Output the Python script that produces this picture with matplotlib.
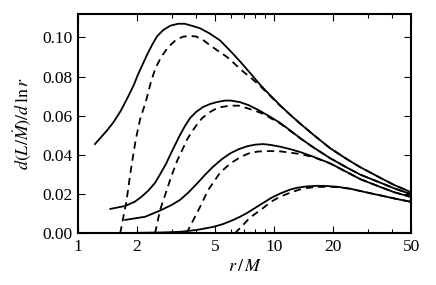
import numpy as np
import matplotlib.pyplot as plt
from matplotlib.ticker import FixedLocator, FixedFormatter, NullFormatter

plt.rcParams['font.family'] = ['Liberation Serif', 'DejaVu Serif']
plt.rcParams['mathtext.fontset'] = 'stix'

# curve 1 (top)
r1_solid = [1.22, 1.39, 1.51, 1.65, 1.80, 1.92, 2.02, 2.13, 2.25, 2.38, 2.53, 2.72, 2.95, 3.24,
            3.5, 3.8, 4.19, 4.7, 5.3, 6.0, 6.7, 7.6, 8.5, 9.53, 10.7, 12.1, 13.6, 15.8, 19.3,
            23.6, 27.5, 34.6, 41, 50]
y1_solid = [0.0456, 0.052, 0.0565, 0.0625, 0.0698, 0.0755, 0.081, 0.086, 0.0912, 0.096, 0.1006,
            0.1038, 0.106, 0.107, 0.107, 0.106, 0.1047, 0.102, 0.0985, 0.093, 0.0878, 0.0815,
            0.0758, 0.0706, 0.0655, 0.0605, 0.056, 0.0505, 0.0435, 0.0378, 0.0338, 0.0285,
            0.0247, 0.021]
r1_dash = [1.64, 1.70, 1.76, 1.86, 1.97, 2.07, 2.22, 2.36, 2.47, 2.65, 2.88, 3.16, 3.43, 3.7,
           4.0, 4.3, 4.72, 5.2, 5.76, 6.3, 6.95, 7.6, 8.5, 9.53, 10.7, 12.1, 13.6, 15.8, 19.3,
           23.6, 27.5, 34.6, 41, 50]
y1_dash = [0.0, 0.008, 0.0156, 0.0325, 0.048, 0.058, 0.0675, 0.0777, 0.0837, 0.090, 0.095,
           0.0988, 0.1004, 0.1008, 0.1005, 0.099, 0.096, 0.093, 0.090, 0.0865, 0.0826, 0.0795,
           0.0752, 0.0703, 0.0653, 0.0605, 0.056, 0.0505, 0.0435, 0.0378, 0.0338, 0.0285,
           0.0247, 0.021]

# curve 2
r2_solid = [1.46, 1.74, 1.95, 2.10, 2.28, 2.47, 2.65, 2.81, 2.95, 3.12, 3.31, 3.51, 3.73, 4.0,
            4.34, 4.7, 5.1, 5.6, 6.0, 6.7, 7.4, 8.2, 9.53, 10.7, 12.1, 13.6, 15.8, 19.3, 23.6,
            27.5, 34.6, 41, 50]
y2_solid = [0.0125, 0.014, 0.0162, 0.0186, 0.0218, 0.0258, 0.031, 0.0355, 0.040, 0.045, 0.0502,
            0.0548, 0.0589, 0.062, 0.0645, 0.066, 0.067, 0.0678, 0.0678, 0.067, 0.0655, 0.0633,
            0.0596, 0.0565, 0.0525, 0.0486, 0.044, 0.0384, 0.0335, 0.030, 0.026, 0.023, 0.020]
r2_dash = [2.47, 2.62, 2.81, 2.98, 3.2, 3.38, 3.6, 3.8, 4.05, 4.3, 4.72, 5.17, 5.96, 6.6, 7.3,
           8.2, 8.8, 9.53, 10.7, 12.1, 13.6, 15.8, 19.3, 23.6, 27.5, 34.6, 41, 50]
y2_dash = [0.0, 0.0119, 0.021, 0.0287, 0.037, 0.042, 0.048, 0.0518, 0.0557, 0.0589, 0.062,
           0.0642, 0.0652, 0.0652, 0.0639, 0.0622, 0.061, 0.059, 0.0562, 0.0523, 0.0485, 0.044,
           0.0384, 0.0335, 0.030, 0.026, 0.023, 0.020]

# curve 3
r3_solid = [1.74, 2.20, 2.65, 3.0, 3.31, 3.64, 4.05, 4.45, 4.88, 5.4, 5.96, 6.6, 7.3, 8.0, 8.8,
            9.53, 10.7, 12.1, 13.6, 15.8, 19.3, 23.6, 27.5, 34.6, 41, 50]
y3_solid = [0.0069, 0.0085, 0.0119, 0.0145, 0.0171, 0.0207, 0.0255, 0.030, 0.034, 0.0378,
            0.0408, 0.043, 0.0445, 0.0453, 0.0456, 0.0452, 0.0443, 0.043, 0.0415, 0.0392,
            0.0358, 0.0312, 0.0277, 0.0238, 0.021, 0.0186]
r3_dash = [3.57, 3.95, 4.19, 4.6, 5.3, 5.8, 6.2, 6.8, 7.5, 8.3, 9.2, 10.5, 12.1, 13.6, 15.8,
           19.3, 23.6, 27.5, 34.6, 41, 50]
y3_dash = [0.0, 0.0085, 0.0135, 0.022, 0.031, 0.0345, 0.0367, 0.0392, 0.041, 0.0418, 0.042,
           0.042, 0.0412, 0.0405, 0.039, 0.0357, 0.0312, 0.0277, 0.0238, 0.021, 0.0186]

# curve 4 (bottom)
r4_solid = [2.0, 2.7, 3.31, 4.05, 4.88, 5.5, 6.2, 6.7, 7.3, 8.0, 8.8, 9.7, 10.7, 12.1, 13.1,
            14.7, 16.5, 18.6, 21.0, 24.5, 28.5, 33, 37.5, 43, 50]
y4_solid = [0.0003, 0.0005, 0.0008, 0.0018, 0.0033, 0.0048, 0.0069, 0.0085, 0.0105, 0.013,
            0.0156, 0.0182, 0.0203, 0.0224, 0.0233, 0.024, 0.0243, 0.0242, 0.0238, 0.0228,
            0.0213, 0.0199, 0.0187, 0.0174, 0.0161]
r4_dash = [6.3, 6.9, 7.5, 8.8, 9.7, 10.7, 12.1, 13.5, 14.7, 16.5, 19.3, 21.0, 24.5, 28.5, 33,
           37.5, 43, 50]
y4_dash = [0.0, 0.004, 0.0079, 0.013, 0.0163, 0.0187, 0.0208, 0.0224, 0.0232, 0.0237, 0.0238,
           0.0236, 0.0228, 0.0213, 0.0199, 0.0187, 0.0174, 0.0161]

xticks = [1, 2, 5, 10, 20, 50]
xticklabels = ['1', '2', '5', '10', '20', '50']
yticks = [0.0, 0.02, 0.04, 0.06, 0.08, 0.10]

fig = plt.figure(figsize=(4.36, 2.85), dpi=100)
ax = fig.add_axes([0.179, 0.181, 0.764, 0.770])

for rs, ys, rd, yd in [(r1_solid, y1_solid, r1_dash, y1_dash),
                       (r2_solid, y2_solid, r2_dash, y2_dash),
                       (r3_solid, y3_solid, r3_dash, y3_dash),
                       (r4_solid, y4_solid, r4_dash, y4_dash)]:
    ax.plot(rs, ys, color='black', lw=1.3)
    ax.plot(rd, yd, color='black', lw=1.3, dashes=(4, 2.8))

ax.set_xscale('log')
ax.set_xlim(1, 50)
ax.set_ylim(0, 0.112)
ax.xaxis.set_major_locator(FixedLocator(xticks))
ax.xaxis.set_major_formatter(FixedFormatter(xticklabels))
ax.xaxis.set_minor_locator(FixedLocator([3, 4, 6, 7, 8, 9, 30, 40]))
ax.xaxis.set_minor_formatter(NullFormatter())
ax.set_yticks(yticks)
ax.set_yticklabels(['%.2f' % v for v in yticks])
ax.tick_params(which='both', direction='in', top=True, right=True, labelsize=12.5, pad=4)
ax.tick_params(which='major', length=5, width=0.8)
ax.tick_params(which='minor', length=3, width=0.8)
for s in ax.spines.values():
    s.set_linewidth(1.5)

ax.set_xlabel(r'$r\,/\,M$', fontsize=13, labelpad=2)
ax.set_ylabel(r'$d(L/\dot{M})/d\,\ln r$', fontsize=13, labelpad=6)

fig.savefig('out.png', dpi=100)
